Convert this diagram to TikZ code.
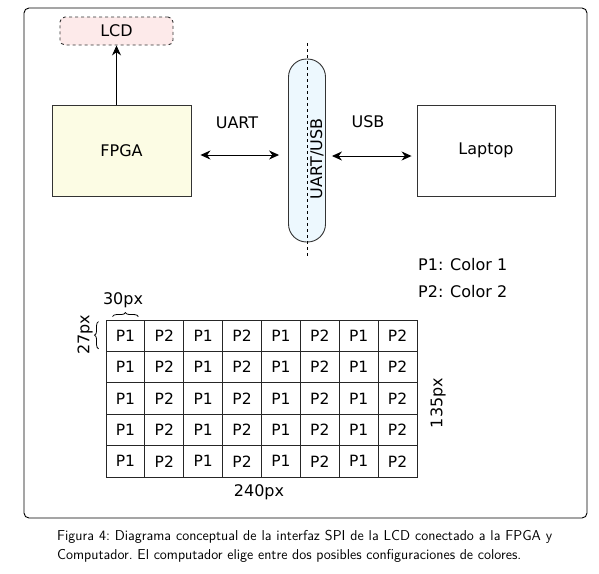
\documentclass[tikz,border=0pt]{standalone}
\usepackage{fontspec}
\newfontfamily\dejavu{DejaVu Sans}
\usetikzlibrary{arrows.meta,decorations.pathreplacing}
\definecolor{lcdfill}{RGB}{253,234,234}
\definecolor{fpgafill}{RGB}{252,252,228}
\definecolor{pillfill}{RGB}{237,248,254}
\begin{document}
\begin{tikzpicture}[x=1pt,y=-1pt,
  every node/.style={font=\dejavu\fontsize{16}{19}\selectfont, inner sep=0pt},
  box/.style={draw=black!80, line width=0.9pt, rectangle},
  cell/.style={draw=black!85, line width=0.9pt, minimum width=38.875pt, minimum height=31.4pt, font=\dejavu\fontsize{15.5}{18}\selectfont},
  arr/.style={line width=0.9pt, {Stealth[length=10pt,width=9pt]}-{Stealth[length=10pt,width=9pt]}},
  uarr/.style={line width=0.9pt, -{Stealth[length=10pt,width=9pt]}},
  brc/.style={decorate, decoration={brace, amplitude=4pt}, line width=0.8pt},
]
\useasboundingbox (0,0) rectangle (599,573);
% frame
\draw[line width=0.9pt, rounded corners=5pt] (24,8) rectangle (587,518);

% top part
\node[box, dashed, rounded corners=5pt, fill=lcdfill, minimum width=113pt, minimum height=28pt] (lcd) at (116.5,31) {LCD};
\node[box, fill=fpgafill, minimum width=139pt, minimum height=91pt] (fpga) at (121.5,150.5) {FPGA};
\node[box, rounded corners=18pt, fill=pillfill, minimum width=37pt, minimum height=183pt] (pill) at (307,150.5) {};
\coordinate (dtop) at (307,43);
\coordinate (dbot) at (307,258);
\draw[dashed, line width=0.8pt] (dtop) -- (dbot);
\node[rotate=90] (pilltxt) at (317,159) {UART/USB};
\node[box, minimum width=138pt, minimum height=91pt] (laptop) at (486,150.5) {Laptop};

\draw[uarr] (fpga.north -| lcd.south) -- (lcd.south);
\draw[arr] ([shift={(9,4.5)}]fpga.east) -- ([shift={(-9,4.5)}]pill.west);
\draw[arr] ([shift={(6,5.5)}]pill.east) -- ([shift={(-5,5.5)}]laptop.west);
\node (uart) at (237,123) {UART};
\node (usb) at (368,122) {USB};

\node[anchor=west] (p1) at (418,265) {P1: Color 1};
\node[anchor=west] (p2) at (418,292) {P2: Color 2};

% grid
\foreach \r in {1,...,5}{
  \foreach \c in {1,...,8}{
    \pgfmathparse{int(mod(\c,2))}
    \ifnum\pgfmathresult=1 \def\lab{P1}\else\def\lab{P2}\fi
    \node[cell] (c\r\c) at ({106+38.875*(\c-0.5)},{320+31.4*(\r-0.5)}) {\lab};
  }
}
\draw[brc] ([xshift=7pt,yshift=3pt]c11.north west) -- ([xshift=-7pt,yshift=3pt]c11.north east);
\node (w30) at (123,300) {30px};
\draw[brc] ([xshift=-7pt,yshift=3pt]c11.south west) -- ([xshift=-7pt,yshift=-2pt]c11.north west);
\node[rotate=90] (h27) at (85,335) {27px};
\node[rotate=90] (h135) at (438,403) {135px};
\node (w240) at (259,492) {240px};

% caption
\node[anchor=north west, text width=495pt, align=justify, font=\sffamily\fontsize{14.3}{19}\selectfont] (cap) at (57,530)
 {\frenchspacing Figura 4: Diagrama conceptual de la interfaz SPI de la LCD conectado a la FPGA y\linebreak Computador. El computador elige entre dos posibles configuraciones de colores.};
\end{tikzpicture}
\end{document}
